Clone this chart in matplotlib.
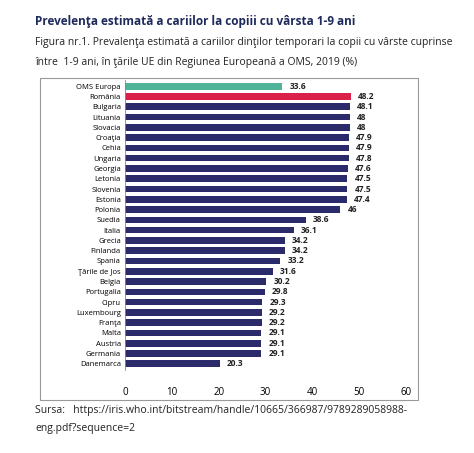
import matplotlib.pyplot as plt
from matplotlib.patches import Rectangle

countries = ["OMS Europa", "România", "Bulgaria", "Lituania", "Slovacia", "Croaţia", "Cehia",
             "Ungaria", "Georgia", "Letonia", "Slovenia", "Estonia", "Polonia", "Suedia", "Italia",
             "Grecia", "Finlanda", "Spania", "Ţările de Jos", "Belgia", "Portugalia", "Cipru",
             "Luxembourg", "Franţa", "Malta", "Austria", "Germania", "Danemarca"]
values = [33.6, 48.2, 48.1, 48, 48, 47.9, 47.9, 47.8, 47.6, 47.5, 47.5, 47.4, 46, 38.6, 36.1,
          34.2, 34.2, 33.2, 31.6, 30.2, 29.8, 29.3, 29.2, 29.2, 29.1, 29.1, 29.1, 20.3]
labels = ["33.6", "48.2", "48.1", "48", "48", "47.9", "47.9", "47.8", "47.6", "47.5", "47.5",
          "47.4", "46", "38.6", "36.1", "34.2", "34.2", "33.2", "31.6", "30.2", "29.8", "29.3",
          "29.2", "29.2", "29.1", "29.1", "29.1", "20.3"]

NAVY = "#2b2a6b"
colors = ["#4fb39a", "#d9214a"] + [NAVY] * (len(countries) - 2)

plt.rcParams["font.family"] = ["Open Sans", "DejaVu Sans"]
fig = plt.figure(figsize=(4.74, 4.53), dpi=100)
fig.patches.append(Rectangle((40 / 474, 1 - 400 / 453), 378 / 474, 322 / 453,
                             transform=fig.transFigure, fill=False, edgecolor="#999999", lw=0.8))
ax = fig.add_axes([125 / 474, 1 - 370 / 453, 281 / 474, 290 / 453])
y = list(range(len(countries)))
ax.barh(y, values, color=colors, height=0.65)
for yi, v, t in zip(y, values, labels):
    ax.text(v + 1.5, yi, t, va="center", ha="left", fontsize=6, fontweight="bold", color="#222222")
ax.set_yticks(y)
ax.set_yticklabels(countries, fontsize=5.5)
ax.set_ylim(len(countries) - 0.4, -0.6)
ax.set_xlim(0, 60)
ax.set_xticks(range(0, 61, 10))
ax.tick_params(axis="x", labelsize=7, length=0, pad=12)
ax.tick_params(axis="y", length=0, pad=3)
for s in ["top", "right", "bottom"]:
    ax.spines[s].set_visible(False)
ax.spines["left"].set_color("#888888")
ax.spines["left"].set_linewidth(0.6)

fig.text(35 / 474, 1 - 22 / 453, "Prevelenţa estimată a cariilor la copiii cu vârsta 1-9 ani",
         fontsize=8.5, fontweight="bold", color="#1f2a5c", va="center")
fig.text(35 / 474, 1 - 43 / 453,
         "Figura nr.1. Prevalenţa estimată a cariilor dinţilor temporari la copii cu vârste cuprinse",
         fontsize=7.5, color="#222222", va="center")
fig.text(35 / 474, 1 - 62 / 453, "între  1-9 ani, în ţările UE din Regiunea Europeană a OMS, 2019 (%)",
         fontsize=7.5, color="#222222", va="center")
fig.text(35 / 474, 1 - 411 / 453,
         "Sursa:   https://iris.who.int/bitstream/handle/10665/366987/9789289058988-",
         fontsize=7.5, color="#222222", va="center")
fig.text(35 / 474, 1 - 428 / 453, "eng.pdf?sequence=2", fontsize=7.5, color="#222222", va="center")
fig.savefig("out.png", dpi=100)
